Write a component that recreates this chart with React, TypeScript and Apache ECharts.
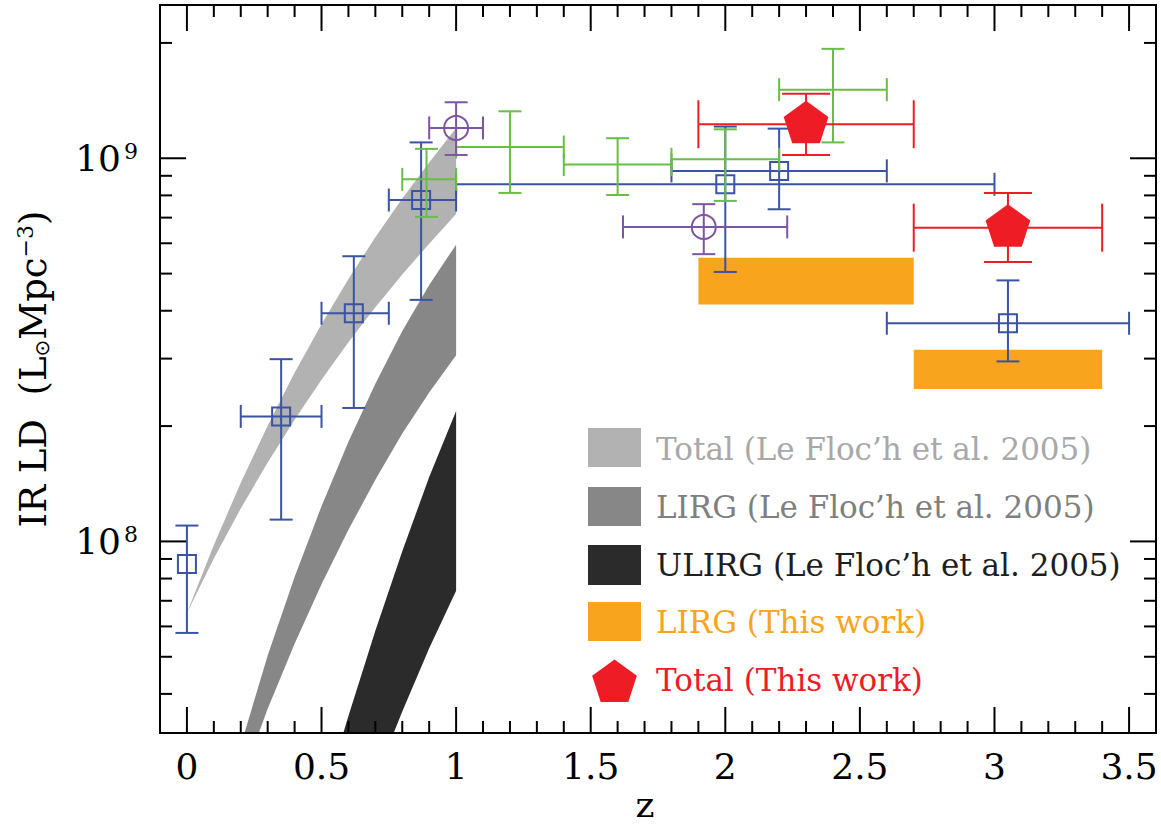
import React, { useEffect, useRef } from "react";
import * as echarts from "echarts";

const FONT = "DejaVu Serif";

// ---- axes ----
const Z_MIN = -0.1;
const Z_MAX = 3.6;
const LD_MIN = 3.1623e7;
const LD_MAX = 2.5119e9;
const xTickLabels = [0, 0.5, 1, 1.5, 2, 2.5, 3, 3.5];
const xMinorTicks = [0.1, 0.2, 0.3, 0.4, 0.6, 0.7, 0.8, 0.9, 1.1, 1.2, 1.3, 1.4, 1.6, 1.7, 1.8, 1.9, 2.1, 2.2, 2.3, 2.4, 2.6, 2.7, 2.8, 2.9, 3.1, 3.2, 3.3, 3.4];
const yMajorTicks = [1e8, 1e9];
const yMinorTicks = [4e7, 5e7, 6e7, 7e7, 8e7, 9e7, 2e8, 3e8, 4e8, 5e8, 6e8, 7e8, 8e8, 9e8, 2e9];

// ---- Le Floc'h et al. 2005 bands: [z, LD] ----
const totalUpper = [[0, 6.5e7], [0.1, 9.79e7], [0.2, 1.422e8], [0.3, 2.004e8], [0.4, 2.754e8], [0.5, 3.689e8], [0.6, 4.84e8], [0.7, 6.22e8], [0.8, 7.85e8], [0.9, 9.75e8], [1.0, 1.2e9]];
const totalLower = [[0, 6.5e7], [0.1, 9.03e7], [0.2, 1.219e8], [0.3, 1.607e8], [0.4, 2.079e8], [0.5, 2.642e8], [0.6, 3.311e8], [0.7, 4.082e8], [0.8, 4.976e8], [0.9, 5.984e8], [1.0, 7.15e8]];
const lirgUpper = [[0.214, 3.162e7], [0.3, 5.04e7], [0.4, 8.07e7], [0.5, 1.236e8], [0.6, 1.82e8], [0.7, 2.58e8], [0.8, 3.54e8], [0.9, 4.67e8], [1.0, 5.95e8]];
const lirgLower = [[0.267, 3.162e7], [0.3, 3.66e7], [0.4, 5.41e7], [0.5, 7.73e7], [0.6, 1.072e8], [0.7, 1.449e8], [0.8, 1.914e8], [0.9, 2.449e8], [1.0, 3.06e8]];
const ulirgUpper = [[0.581, 3.162e7], [0.6, 3.505e7], [0.7, 5.85e7], [0.8, 9.43e7], [0.9, 1.472e8], [1.0, 2.19e8]];
const ulirgLower = [[0.768, 3.162e7], [0.8, 3.6e7], [0.9, 5.26e7], [1.0, 7.43e7]];

// ---- LIRG (This work) boxes ----
const orangeZLo = [1.9, 2.7];
const orangeZHi = [2.7, 3.4];
const orangeLo = [4.15e8, 2.5e8];
const orangeHi = [5.5e8, 3.165e8];

// ---- data points with error bars ----
const blueZ = [0, 0.35, 0.62, 0.87, 2.0, 2.2, 3.05];
const blueZLo = [0, 0.2, 0.5, 0.75, 1.0, 1.8, 2.6];
const blueZHi = [0, 0.5, 0.75, 1.0, 3.0, 2.6, 3.5];
const blueLD = [8.73e7, 2.12e8, 3.94e8, 7.78e8, 8.55e8, 9.27e8, 3.71e8];
const blueLo = [5.77e7, 1.14e8, 2.23e8, 4.27e8, 5.05e8, 7.36e8, 2.95e8];
const blueHi = [1.1e8, 2.99e8, 5.55e8, 1.1e9, 1.21e9, 1.195e9, 4.8e8];

const greenZ = [0.89, 1.2, 1.6, 2.0, 2.4];
const greenZLo = [0.8, 1.0, 1.4, 1.8, 2.2];
const greenZHi = [1.0, 1.4, 1.8, 2.2, 2.6];
const greenLD = [8.81e8, 1.07e9, 9.63e8, 9.94e8, 1.51e9];
const greenLo = [7.03e8, 8.12e8, 8.02e8, 7.74e8, 1.1e9];
const greenHi = [1.058e9, 1.326e9, 1.128e9, 1.19e9, 1.93e9];

const purpleZ = [1.0, 1.92];
const purpleZLo = [0.9, 1.62];
const purpleZHi = [1.1, 2.23];
const purpleLD = [1.2e9, 6.62e8];
const purpleLo = [1.02e9, 5.62e8];
const purpleHi = [1.4e9, 7.59e8];

const redZ = [2.3, 3.05];
const redZLo = [1.9, 2.7];
const redZHi = [2.7, 3.4];
const redLD = [1.227e9, 6.59e8];
const redLo = [1.02e9, 5.36e8];
const redHi = [1.474e9, 8.12e8];

const legendLabels = [
  "Total (Le Floc\u2019h et al. 2005)",
  "LIRG (Le Floc\u2019h et al. 2005)",
  "ULIRG (Le Floc\u2019h et al. 2005)",
  "LIRG (This work)",
  "Total (This work)",
];

const C_TOTAL = "#b2b2b2";
const C_LIRG = "#878787";
const C_ULIRG = "#2b2b2b";
const C_ORANGE = "#f8a51d";
const C_RED = "#ee1c25";
const C_BLUE = "#3a53a4";
const C_GREEN = "#6abd45";
const C_PURPLE = "#7e55a3";

function pentagonPoints(cx: number, cy: number, r: number) {
  const pts: number[][] = [];
  for (let k = 0; k < 5; k++) {
    const a = -Math.PI / 2 + (k * 2 * Math.PI) / 5;
    pts.push([cx + r * Math.cos(a), cy + r * Math.sin(a)]);
  }
  return pts;
}

function bandSeries(upper: number[][], lower: number[][], color: string) {
  return {
    type: "custom",
    silent: true,
    clip: true,
    z: 1,
    data: [[upper[0][0], upper[0][1]]],
    renderItem: (params: any, api: any) => {
      const pts: number[][] = [];
      upper.forEach((p) => pts.push(api.coord(p)));
      for (let i = lower.length - 1; i >= 0; i--) pts.push(api.coord(lower[i]));
      return { type: "polygon", shape: { points: pts }, style: { fill: color } };
    },
  };
}

function errorSeries(
  color: string,
  z: number[], zLo: number[], zHi: number[], ld: number[], lo: number[], hi: number[],
  cap: number, marker: string, zOrder: number
) {
  const data = z.map((v, i) => [v, ld[i], zLo[i], zHi[i], lo[i], hi[i]]);
  return {
    type: "custom",
    silent: true,
    z: zOrder,
    data,
    encode: { x: 0, y: 1 },
    renderItem: (params: any, api: any) => {
      const c = api.coord([api.value(0), api.value(1)]);
      const l = api.coord([api.value(2), api.value(1)]);
      const r = api.coord([api.value(3), api.value(1)]);
      const t = api.coord([api.value(0), api.value(5)]);
      const b = api.coord([api.value(0), api.value(4)]);
      const st = { stroke: color, lineWidth: 2, fill: "none" };
      const ch: any[] = [];
      if (r[0] - l[0] > 1) {
        ch.push({ type: "line", shape: { x1: l[0], y1: c[1], x2: r[0], y2: c[1] }, style: st });
        ch.push({ type: "line", shape: { x1: l[0], y1: c[1] - cap, x2: l[0], y2: c[1] + cap }, style: st });
        ch.push({ type: "line", shape: { x1: r[0], y1: c[1] - cap, x2: r[0], y2: c[1] + cap }, style: st });
      }
      ch.push({ type: "line", shape: { x1: c[0], y1: t[1], x2: c[0], y2: b[1] }, style: st });
      ch.push({ type: "line", shape: { x1: c[0] - cap, y1: t[1], x2: c[0] + cap, y2: t[1] }, style: st });
      ch.push({ type: "line", shape: { x1: c[0] - cap, y1: b[1], x2: c[0] + cap, y2: b[1] }, style: st });
      if (marker === "square") {
        ch.push({ type: "rect", shape: { x: c[0] - 9, y: c[1] - 9, width: 18, height: 18 }, style: st });
      } else if (marker === "circle") {
        ch.push({ type: "circle", shape: { cx: c[0], cy: c[1], r: 12 }, style: st });
      } else if (marker === "pentagon") {
        ch.push({ type: "polygon", shape: { points: pentagonPoints(c[0], c[1], 23.5) }, style: { fill: color } });
      }
      return { type: "group", children: ch };
    },
  };
}

export default function App() {
  const ref = useRef<HTMLDivElement>(null);
  useEffect(() => {
    if (!ref.current) return;
    const chart = echarts.init(ref.current, null, { renderer: "svg" });
    const labelRich = {
      b: { fontSize: 36, fontFamily: FONT, color: "#000" },
      s: { fontSize: 22, fontFamily: FONT, color: "#000", verticalAlign: "top", padding: [0, 0, 0, 3] },
    };
    const option: any = {
      animation: false,
      backgroundColor: "#fff",
      grid: { left: 160, right: 5, top: 5, bottom: 94, containLabel: false, outerBoundsMode: "none" },
      xAxis: {
        type: "value",
        min: Z_MIN,
        max: Z_MAX,
        splitLine: { show: false },
        axisLine: { show: false },
        axisTick: { show: false },
        axisLabel: {
          customValues: xTickLabels,
          fontFamily: FONT,
          fontSize: 36,
          color: "#000",
          margin: 15,
          formatter: (v: number) => String(v),
        },
      },
      yAxis: {
        type: "log",
        logBase: 10,
        min: LD_MIN,
        max: LD_MAX,
        splitLine: { show: false },
        axisLine: { show: false },
        axisTick: { show: false },
        axisLabel: {
          margin: 22,
          formatter: (v: number) => {
            const e = Math.log10(v);
            const r = Math.round(e);
            if (Math.abs(e - r) > 1e-3) return "";
            return `{b|10}{s|${r}}`;
          },
          rich: labelRich,
        },
      },
      series: [
        bandSeries(totalUpper, totalLower, C_TOTAL),
        bandSeries(lirgUpper, lirgLower, C_LIRG),
        bandSeries(ulirgUpper, ulirgLower, C_ULIRG),
        {
          type: "custom",
          silent: true,
          z: 2,
          data: orangeZLo.map((v, i) => [v, orangeLo[i], orangeZHi[i], orangeHi[i]]),
          encode: { x: 0, y: 1 },
          renderItem: (params: any, api: any) => {
            const p1 = api.coord([api.value(0), api.value(3)]);
            const p2 = api.coord([api.value(2), api.value(1)]);
            return {
              type: "rect",
              shape: { x: p1[0], y: p1[1], width: p2[0] - p1[0], height: p2[1] - p1[1] },
              style: { fill: C_ORANGE },
            };
          },
        },
        errorSeries(C_BLUE, blueZ, blueZLo, blueZHi, blueLD, blueLo, blueHi, 11.5, "square", 3),
        errorSeries(C_GREEN, greenZ, greenZLo, greenZHi, greenLD, greenLo, greenHi, 11.5, "none", 4),
        errorSeries(C_PURPLE, purpleZ, purpleZLo, purpleZHi, purpleLD, purpleLo, purpleHi, 11.5, "circle", 5),
        errorSeries(C_RED, redZ, redZLo, redZHi, redLD, redLo, redHi, 24, "pentagon", 6),
        {
          // frame and ticks
          type: "custom",
          silent: true,
          clip: false,
          z: 20,
          data: [[0, 1e8]],
          renderItem: (params: any, api: any) => {
            const cs = params.coordSys;
            const L = cs.x, T = cs.y, R = cs.x + cs.width, B = cs.y + cs.height;
            const st = { stroke: "#000", lineWidth: 2 };
            const ch: any[] = [];
            xTickLabels.forEach((v) => {
              const x = api.coord([v, 1e8])[0];
              ch.push({ type: "line", shape: { x1: x, y1: B, x2: x, y2: B - 26 }, style: st });
              ch.push({ type: "line", shape: { x1: x, y1: T, x2: x, y2: T + 26 }, style: st });
            });
            xMinorTicks.forEach((v) => {
              const x = api.coord([v, 1e8])[0];
              ch.push({ type: "line", shape: { x1: x, y1: B, x2: x, y2: B - 12 }, style: st });
              ch.push({ type: "line", shape: { x1: x, y1: T, x2: x, y2: T + 12 }, style: st });
            });
            yMajorTicks.forEach((v) => {
              const y = api.coord([0, v])[1];
              ch.push({ type: "line", shape: { x1: L, y1: y, x2: L + 26, y2: y }, style: st });
              ch.push({ type: "line", shape: { x1: R, y1: y, x2: R - 26, y2: y }, style: st });
            });
            yMinorTicks.forEach((v) => {
              const y = api.coord([0, v])[1];
              ch.push({ type: "line", shape: { x1: L, y1: y, x2: L + 12, y2: y }, style: st });
              ch.push({ type: "line", shape: { x1: R, y1: y, x2: R - 12, y2: y }, style: st });
            });
            ch.push({ type: "rect", shape: { x: L, y: T, width: R - L, height: B - T }, style: { fill: "none", stroke: "#000", lineWidth: 2 } });
            return { type: "group", children: ch };
          },
        },
      ],
      graphic: [
        {
          type: "text",
          x: 33,
          y: 369,
          rotation: Math.PI / 2,
          style: {
            text: "{a|IR LD  (L}{s|\u2299}{a|Mpc}{p|\u22123}{a|)}",
            align: "center",
            verticalAlign: "middle",
            rich: {
              a: { fontFamily: FONT, fontSize: 37, fill: "#000", color: "#000" },
              s: { fontFamily: "DejaVu Sans", fontSize: 20, fill: "#000", color: "#000", verticalAlign: "bottom" },
              p: { fontFamily: FONT, fontSize: 22, fill: "#000", color: "#000", verticalAlign: "top" },
            },
          },
        },
        { type: "text", x: 645, y: 804, style: { text: "z", fill: "#000", fontFamily: FONT, fontSize: 36, align: "center", verticalAlign: "middle" } },
        { type: "rect", shape: { x: 588, y: 428, width: 53, height: 39 }, style: { fill: C_TOTAL } },
        { type: "rect", shape: { x: 588, y: 487, width: 53, height: 39 }, style: { fill: C_LIRG } },
        { type: "rect", shape: { x: 588, y: 545, width: 53, height: 40 }, style: { fill: C_ULIRG } },
        { type: "rect", shape: { x: 588, y: 602, width: 53, height: 39 }, style: { fill: C_ORANGE } },
        { type: "polygon", shape: { points: pentagonPoints(614.5, 683, 23.5) }, style: { fill: C_RED } },
        { type: "text", x: 656, y: 449, style: { text: legendLabels[0], fill: "#a8a8a8", fontFamily: FONT, fontSize: 31, verticalAlign: "middle" } },
        { type: "text", x: 656, y: 507, style: { text: legendLabels[1], fill: "#7f7f7f", fontFamily: FONT, fontSize: 31, verticalAlign: "middle" } },
        { type: "text", x: 656, y: 565, style: { text: legendLabels[2], fill: "#1e1e1e", fontFamily: FONT, fontSize: 31, verticalAlign: "middle" } },
        { type: "text", x: 656, y: 622, style: { text: legendLabels[3], fill: C_ORANGE, fontFamily: FONT, fontSize: 31, verticalAlign: "middle" } },
        { type: "text", x: 656, y: 680, style: { text: legendLabels[4], fill: C_RED, fontFamily: FONT, fontSize: 31, verticalAlign: "middle" } },
      ],
    };
    chart.setOption(option);
    return () => chart.dispose();
  }, []);
  return (
    <div
      ref={ref}
      style={{ position: "fixed", left: 0, top: 0, width: 1161, height: 827, background: "#fff" }}
    />
  );
}
